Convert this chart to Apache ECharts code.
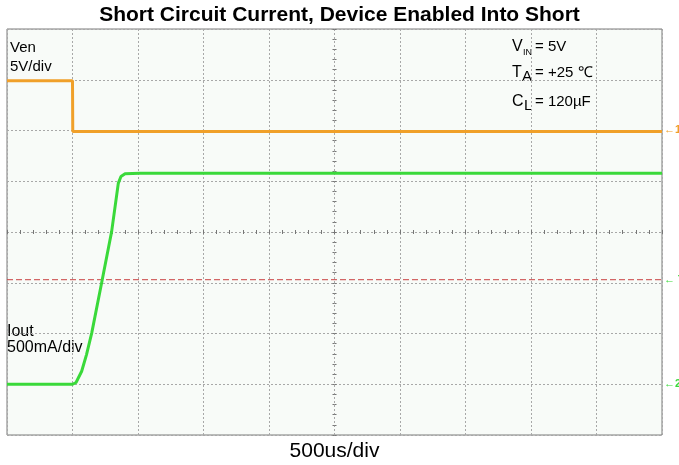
<!DOCTYPE html>
<html>
<head>
<meta charset="utf-8">
<script src="https://cdn.jsdelivr.net/npm/echarts@6/dist/echarts.min.js"></script>
<style>html,body{margin:0;padding:0;background:#fff}#c{width:679px;height:465px}</style>
</head>
<body>
<div id="c"></div>
<script>
// Time in microseconds (500 us/div), Ven in volts (5 V/div), Iout in mA (500 mA/div)
const venTime = [0, 500, 502, 5000];
const venVolts = [4.9, 4.9, -0.1, -0.1];
const ioutTime = [0, 501, 527, 570, 607, 647, 727, 799, 850, 870, 901, 1015, 5000];
const ioutMilliamps = [0, 0, 17, 128, 292, 506, 1030, 1506, 1982, 2047, 2074, 2080, 2080];
const triggerTime = [0, 5000];
const triggerLevel = [1030, 1030];
const titleText = 'Short Circuit Current, Device Enabled Into Short';
const xAxisName = '500us/div';

const FONT = 'Liberation Sans, Arial, sans-serif';
const gridGray = '#a8a8a8';
const orange = '#f0a02a';
const green = '#3ad93a';
const triggerRed = '#c84040';

const chart = echarts.init(document.getElementById('c'), null, {renderer: 'canvas'});

function hiddenAxis(extra) {
  return Object.assign({
    type: 'value', axisLabel: {show: false}, axisTick: {show: false},
    axisLine: {show: false, onZero: false}, splitLine: {show: false}
  }, extra);
}
function centerTickX(inside) {
  return {
    type: 'value', min: 0, max: 5000, interval: 500, position: 'bottom', offset: -203,
    axisLabel: {show: false}, splitLine: {show: false},
    axisLine: {show: false, onZero: false},
    axisTick: {show: true, inside: inside, length: 2, lineStyle: {color: '#777'}},
    minorTick: {show: true, splitNumber: 5, length: 2, lineStyle: {color: '#777'}}
  };
}
function centerTickY(inside) {
  return {
    type: 'value', min: -30, max: 10, interval: 5, position: 'left', offset: -327.5,
    axisLabel: {show: false}, splitLine: {show: false},
    axisLine: {show: false, onZero: false},
    axisTick: {show: true, inside: inside, length: 2, lineStyle: {color: '#777'}},
    minorTick: {show: true, splitNumber: 5, length: 2, lineStyle: {color: '#777'}}
  };
}

const option = {
  animation: false,
  backgroundColor: '#ffffff',
  title: {
    text: titleText, left: 'center', top: 5, padding: 0,
    textStyle: {fontFamily: FONT, fontSize: 21, fontWeight: 'bold', color: '#000'}
  },
  grid: {
    left: 7, right: 17, top: 29, bottom: 30,
    outerBoundsMode: 'none', containLabel: false,
    show: true, backgroundColor: '#f8fbf8', borderColor: '#7a7a7a', borderWidth: 1
  },
  xAxis: [
    {
      type: 'value', min: 0, max: 5000, interval: 500, position: 'bottom',
      name: xAxisName, nameLocation: 'middle', nameGap: 6,
      nameTextStyle: {fontFamily: FONT, fontSize: 21, color: '#000', verticalAlign: 'top'},
      axisLabel: {show: false}, axisTick: {show: false},
      axisLine: {show: false, onZero: false},
      splitLine: {show: true, lineStyle: {color: gridGray, type: [2, 2], width: 1}}
    },
    centerTickX(false),
    centerTickX(true)
  ],
  yAxis: [
    {
      type: 'value', min: -30, max: 10, interval: 5, position: 'left',
      axisLabel: {show: false}, axisTick: {show: false},
      axisLine: {show: false, onZero: false},
      splitLine: {show: true, lineStyle: {color: gridGray, type: [2, 2], width: 1}}
    },
    hiddenAxis({min: -500, max: 3500, interval: 500, position: 'right'}),
    centerTickY(false),
    centerTickY(true)
  ],
  series: [
    {
      name: 'Trigger', type: 'line', xAxisIndex: 0, yAxisIndex: 1, symbol: 'none',
      data: triggerTime.map((t, i) => [t, triggerLevel[i]]),
      lineStyle: {color: triggerRed, width: 1, type: [6, 3]}, z: 2, silent: true
    },
    {
      name: 'Ven', type: 'line', xAxisIndex: 0, yAxisIndex: 0, symbol: 'none',
      data: venTime.map((t, i) => [t, venVolts[i]]),
      lineStyle: {color: orange, width: 3}, z: 3
    },
    {
      name: 'Iout', type: 'line', xAxisIndex: 0, yAxisIndex: 1, symbol: 'none',
      data: ioutTime.map((t, i) => [t, ioutMilliamps[i]]),
      lineStyle: {color: green, width: 3}, z: 4
    }
  ],
  graphic: [
    {type: 'text', left: 10, top: 40, style: {text: 'Ven', font: '15px ' + FONT, fill: '#000'}},
    {type: 'text', left: 10, top: 59, style: {text: '5V/div', font: '15px ' + FONT, fill: '#000'}},
    {type: 'text', left: 7, top: 324, style: {text: 'Iout', font: '16px ' + FONT, fill: '#000'}},
    {type: 'text', left: 7, top: 340, style: {text: '500mA/div', font: '16px ' + FONT, fill: '#000'}},

    {type: 'text', left: 512, top: 39, style: {text: 'V', font: '16px ' + FONT, fill: '#000'}},
    {type: 'text', left: 523, top: 48, style: {text: 'IN', font: '9px ' + FONT, fill: '#000'}},
    {type: 'text', left: 535, top: 39, style: {text: '= 5V', font: '15px ' + FONT, fill: '#000'}},
    {type: 'text', left: 512, top: 65, style: {text: 'T', font: '16px ' + FONT, fill: '#000'}},
    {type: 'text', left: 522, top: 69, style: {text: 'A', font: '15px ' + FONT, fill: '#000'}},
    {type: 'text', left: 535, top: 65, style: {text: '= +25 \u2103', font: '15px ' + FONT, fill: '#000'}},
    {type: 'text', left: 512, top: 94, style: {text: 'C', font: '16px ' + FONT, fill: '#000'}},
    {type: 'text', left: 524, top: 98, style: {text: 'L', font: '15px ' + FONT, fill: '#000'}},
    {type: 'text', left: 535, top: 94, style: {text: '= 120\u00b5F', font: '15px ' + FONT, fill: '#000'}},

    {type: 'text', left: 664, top: 124, style: {text: '\u21901', font: 'bold 11px ' + FONT, fill: orange}},
    {type: 'text', left: 664, top: 274, style: {text: '\u2190 T', font: 'bold 11px ' + FONT, fill: green}},
    {type: 'text', left: 664, top: 378, style: {text: '\u21902', font: 'bold 11px ' + FONT, fill: green}}
  ]
};
chart.setOption(option);
</script>
</body>
</html>
